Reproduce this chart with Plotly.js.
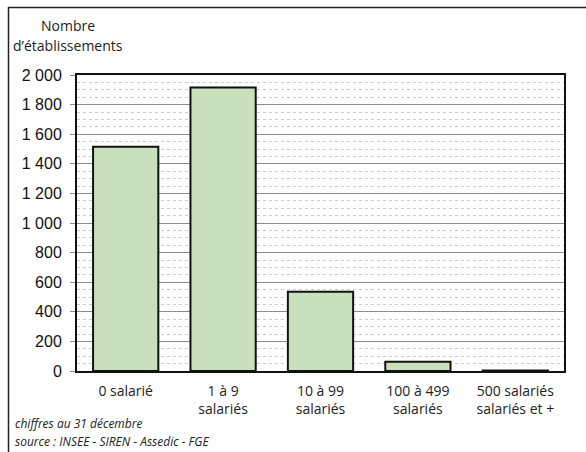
<!DOCTYPE html>
<html>
<head>
<meta charset="utf-8">
<script src="https://cdn.plot.ly/plotly-3.0.1.min.js"></script>
<style>html,body{margin:0;padding:0;background:#fff;}#chart{width:586px;height:452px;}</style>
</head>
<body>
<div id="chart"></div>
<script>
const categories = ["0 salarié", "1 à 9<br>salariés", "10 à 99<br>salariés", "100 à 499<br>salariés", "500 salariés<br>salariés et +"];
const etablissements = [1515, 1915, 535, 62, 4];
const yTickVals = [0, 200, 400, 600, 800, 1000, 1200, 1400, 1600, 1800, 2000];
const yTickText = ["0", "200", "400", "600", "800", "1 000", "1 200", "1 400", "1 600", "1 800", "2 000"];
const yTitleLines = ["Nombre", "d’établissements"];
const footnotes = ["chiffres au 31 décembre", "source : INSEE - SIREN - Assedic - FGE"];

const trace = {
  type: "bar",
  x: categories,
  y: etablissements,
  marker: { color: "#c8e0bb", line: { color: "#111", width: 2 } },
  hoverinfo: "skip"
};

const PW = 487, PH = 296, L = 77, B = 371;
const px = v => (v - L) / PW;
const py = v => (B - v) / PH;

const layout = {
  width: 586, height: 452,
  margin: { l: 77, r: 22, t: 75, b: 81 },
  paper_bgcolor: "#fff",
  plot_bgcolor: "#fff",
  bargap: 0.33,
  showlegend: false,
  font: { family: "Liberation Sans, Arial, sans-serif", color: "#111" },
  xaxis: {
    type: "category",
    showgrid: false,
    ticks: "",
    ticklabelstandoff: 6,
    tickfont: { family: "Open Sans, sans-serif", size: 14, color: "#222" },
    showline: true, linecolor: "#111", linewidth: 2, mirror: true,
    zeroline: false,
    fixedrange: true
  },
  yaxis: {
    range: [0, 2000],
    tickvals: yTickVals,
    ticktext: yTickText,
    tickfont: { family: "Liberation Sans, Arial, sans-serif", size: 16, color: "#111" },
    ticklabelstandoff: 5,
    showgrid: true, gridcolor: "#8c8c8c", gridwidth: 1,
    ticks: "outside", ticklen: 5, tickcolor: "#8c8c8c", tickwidth: 1,
    minor: { dtick: 50, showgrid: true, gridcolor: "#cccccc", griddash: "dot", gridwidth: 1 },
    showline: true, linecolor: "#111", linewidth: 2, mirror: true,
    zeroline: false,
    fixedrange: true
  },
  shapes: [
    { type: "rect", xref: "paper", yref: "paper",
      x0: px(8.5), x1: px(620), y0: py(480), y1: py(7.5),
      line: { color: "#222", width: 1.5 }, fillcolor: "rgba(0,0,0,0)", layer: "below" }
  ],
  annotations: [
    { xref: "paper", yref: "paper", x: px(68), y: py(25), text: yTitleLines[0],
      showarrow: false, xanchor: "center", yanchor: "middle",
      font: { family: "Open Sans, sans-serif", size: 14, color: "#222" } },
    { xref: "paper", yref: "paper", x: px(68), y: py(46), text: yTitleLines[1],
      showarrow: false, xanchor: "center", yanchor: "middle",
      font: { family: "Open Sans, sans-serif", size: 14, color: "#222" } },
    { xref: "paper", yref: "paper", x: px(13), y: py(423), text: "<i>" + footnotes[0] + "</i>",
      showarrow: false, xanchor: "left", yanchor: "middle",
      font: { family: "Open Sans, sans-serif", size: 12, color: "#222" } },
    { xref: "paper", yref: "paper", x: px(13), y: py(441), text: "<i>" + footnotes[1] + "</i>",
      showarrow: false, xanchor: "left", yanchor: "middle",
      font: { family: "Open Sans, sans-serif", size: 12, color: "#222" } }
  ]
};

Plotly.newPlot("chart", [trace], layout, { displayModeBar: false, staticPlot: true });
</script>
</body>
</html>
